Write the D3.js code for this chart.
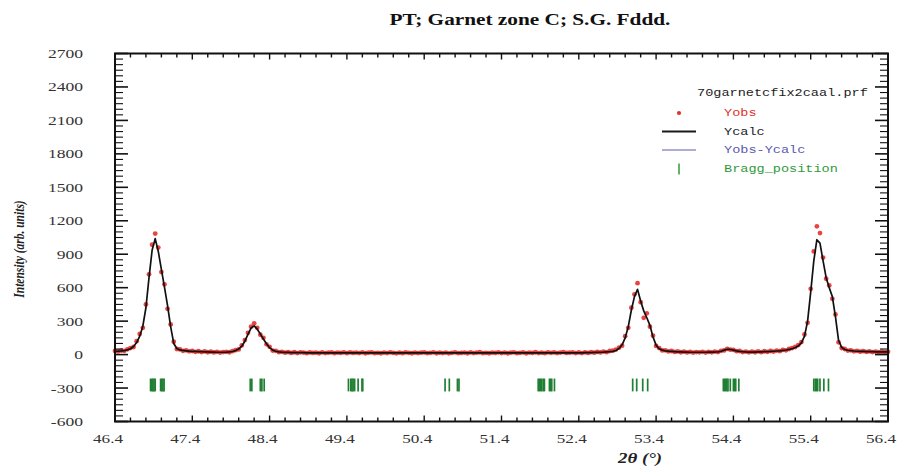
<!DOCTYPE html>
<html>
<head>
<meta charset="utf-8">
<script src="https://cdn.jsdelivr.net/npm/d3@7"></script>
<style>
  body { margin: 0; background: #fff; }
  svg { display: block; }
</style>
</head>
<body>
<svg id="chart" width="899" height="468"></svg>
<script>
// scan grid (2theta, deg)
const twoTheta = [
  46.40,46.44,46.48,46.52,46.56,46.60,46.64,46.68,46.72,46.76,46.80,46.84,46.88,46.92,46.96,47.00,47.04,47.08,47.12,47.16,47.20,47.24,47.28,47.32,47.36,
  47.40,47.44,47.48,47.52,47.56,47.60,47.64,47.68,47.72,47.76,47.80,47.84,47.88,47.92,47.96,48.00,48.04,48.08,48.12,48.16,48.20,48.24,48.28,48.32,48.36,
  48.40,48.44,48.48,48.52,48.56,48.60,48.64,48.68,48.72,48.76,48.80,48.84,48.88,48.92,48.96,49.00,49.04,49.08,49.12,49.16,49.20,49.24,49.28,49.32,49.36,
  49.40,49.44,49.48,49.52,49.56,49.60,49.64,49.68,49.72,49.76,49.80,49.84,49.88,49.92,49.96,50.00,50.04,50.08,50.12,50.16,50.20,50.24,50.28,50.32,50.36,
  50.40,50.44,50.48,50.52,50.56,50.60,50.64,50.68,50.72,50.76,50.80,50.84,50.88,50.92,50.96,51.00,51.04,51.08,51.12,51.16,51.20,51.24,51.28,51.32,51.36,
  51.40,51.44,51.48,51.52,51.56,51.60,51.64,51.68,51.72,51.76,51.80,51.84,51.88,51.92,51.96,52.00,52.04,52.08,52.12,52.16,52.20,52.24,52.28,52.32,52.36,
  52.40,52.44,52.48,52.52,52.56,52.60,52.64,52.68,52.72,52.76,52.80,52.84,52.88,52.92,52.96,53.00,53.04,53.08,53.12,53.16,53.20,53.24,53.28,53.32,53.36,
  53.40,53.44,53.48,53.52,53.56,53.60,53.64,53.68,53.72,53.76,53.80,53.84,53.88,53.92,53.96,54.00,54.04,54.08,54.12,54.16,54.20,54.24,54.28,54.32,54.36,
  54.40,54.44,54.48,54.52,54.56,54.60,54.64,54.68,54.72,54.76,54.80,54.84,54.88,54.92,54.96,55.00,55.04,55.08,55.12,55.16,55.20,55.24,55.28,55.32,55.36,
  55.40,55.44,55.48,55.52,55.56,55.60,55.64,55.68,55.72,55.76,55.80,55.84,55.88,55.92,55.96,56.00,56.04,56.08,56.12,56.16,56.20,56.24,56.28,56.32,56.36,56.40
];

const yObs = [
  33,28,36,34,47,58,68,120,185,240,450,720,985,1085,960,740,630,410,270,115,50,46,34,38,29,
  32,25,30,23,28,21,26,19,24,18,23,25,21,31,40,46,82,130,195,250,280,240,178,150,92,
  70,36,34,22,25,17,22,15,21,14,20,18,13,19,15,18,12,20,14,17,19,13,18,15,20,
  13,19,15,18,14,20,12,17,19,13,16,12,18,14,20,15,11,17,13,19,16,12,18,14,17,
  19,13,16,20,12,17,14,18,11,16,20,13,15,18,12,19,14,17,21,13,16,12,18,15,20,
  14,18,12,17,20,13,16,19,12,18,15,21,14,17,13,20,16,19,14,18,22,15,17,20,14,
  19,14,20,15,22,17,24,19,27,22,32,35,45,62,80,165,240,420,540,640,470,330,370,250,170,
  78,58,37,38,28,32,24,28,21,26,19,24,18,23,20,25,18,24,20,27,23,34,37,52,44,
  43,31,32,23,27,20,26,21,28,22,30,25,32,27,36,31,42,38,50,58,68,85,112,180,285,
  590,925,1150,1090,870,680,620,500,360,110,58,50,36,38,29,33,26,31,25,28,23,27,22,26,21,25
];

const yCalc = [
  30,31,33,36,42,52,72,108,165,255,420,690,935,1040,925,765,605,440,250,100,55,42,37,34,31,
  29,28,27,26,25,24,23,22,21,21,21,22,24,28,36,50,75,120,182,238,258,228,186,140,98,
  62,40,30,25,22,20,19,18,18,17,17,17,16,16,16,16,16,16,16,16,16,16,16,16,16,
  16,16,16,16,16,16,16,16,15,15,15,15,15,15,15,15,15,15,15,15,15,15,15,15,15,
  15,15,15,15,15,15,15,15,15,15,15,15,15,15,15,15,15,15,15,15,15,15,15,15,15,
  15,15,15,15,15,15,15,15,15,15,16,16,16,16,16,16,16,16,16,16,16,16,16,16,16,
  16,16,17,17,18,19,20,21,22,24,26,29,37,55,88,150,250,400,520,585,480,392,330,262,158,
  85,52,40,34,31,29,27,25,24,23,22,21,21,21,21,21,21,22,22,23,25,30,40,48,46,
  40,34,29,26,24,23,23,23,24,25,26,27,28,30,32,34,37,41,46,53,63,78,105,165,300,
  560,840,1030,1000,840,690,600,520,340,130,65,46,39,35,32,30,29,28,27,26,26,25,25,25,24,24
];

const braggPos = [
  46.86,46.875,46.89,46.905,46.92,46.99,47.005,47.02,47.035,
  48.15,48.17,48.28,48.30,48.33,
  49.42,49.45,49.465,49.48,49.50,49.545,49.595,49.605,
  50.67,50.725,50.83,50.85,
  51.875,51.89,51.905,51.92,51.94,51.955,52.02,52.035,52.05,52.085,
  53.097,53.149,53.227,53.291,
  54.27,54.285,54.30,54.315,54.33,54.36,54.40,54.415,54.43,54.47,
  55.44,55.46,55.475,55.49,55.52,55.57,55.63
];

const xTickValues = [46.4,47.4,48.4,49.4,50.4,51.4,52.4,53.4,54.4,55.4,56.4];
const xTickLabels = ["46.4","47.4","48.4","49.4","50.4","51.4","52.4","53.4","54.4","55.4","56.4"];
const yTickValues = [-600,-300,0,300,600,900,1200,1500,1800,2100,2400,2700];
const yTickLabels = ["-600","-300","0","300","600","900","1200","1500","1800","2100","2400","2700"];

const legendItems = ["Yobs", "Ycalc", "Yobs-Ycalc", "Bragg_position"];
const legendColors = ["#e0302c", "#1a1a1a", "#5a5aaa", "#2f9a3c"];

const svg = d3.select("#chart");
const x = d3.scaleLinear().domain([46.4, 56.4]).range([115, 888]);
const y = d3.scaleLinear().domain([-600, 2700]).range([421.5, 53.5]);
const serif = "'Liberation Serif', 'Times New Roman', serif";
const mono = "'Liberation Mono', 'DejaVu Sans Mono', monospace";

svg.append("rect").attr("width", 899).attr("height", 468).attr("fill", "#fff");

// title
svg.append("text")
  .attr("transform", "translate(530,25) scale(1.33,1)")
  .attr("text-anchor", "middle")
  .style("font-family", serif).style("font-weight", "bold").style("font-size", "16px")
  .attr("fill", "#111")
  .text("PT; Garnet zone C; S.G. Fddd.");

// observed points
svg.append("g").selectAll("circle").data(yObs).enter().append("circle")
  .attr("cx", (d, i) => x(twoTheta[i]))
  .attr("cy", d => y(d))
  .attr("r", 2.4)
  .attr("fill", "#e6302c")
  .attr("fill-opacity", 0.9);

// calculated profile
const line = d3.line().x((d, i) => x(twoTheta[i])).y(d => y(d));
svg.append("path").datum(yCalc)
  .attr("d", line)
  .attr("fill", "none")
  .attr("stroke", "#111")
  .attr("stroke-width", 1.7)
  .attr("stroke-linejoin", "round");

// bragg positions
svg.append("g").selectAll("line").data(braggPos).enter().append("line")
  .attr("x1", d => x(d)).attr("x2", d => x(d))
  .attr("y1", y(-215)).attr("y2", y(-330))
  .attr("stroke", "#1f7f33").attr("stroke-width", 1.7);

// axes: ticks drawn inward on all four sides
const axisG = svg.append("g").attr("stroke", "#111");
const xMinor = d3.range(46.4, 56.41, 0.2);
const yMinor = d3.range(-600, 2701, 50);
xMinor.forEach(v => {
  const major = xTickValues.some(t => Math.abs(t - v) < 1e-6);
  const len = major ? 6 : 4;
  axisG.append("line").attr("x1", x(v)).attr("x2", x(v)).attr("y1", y(-600)).attr("y2", y(-600) - len).attr("stroke-width", 1.4);
  axisG.append("line").attr("x1", x(v)).attr("x2", x(v)).attr("y1", y(2700)).attr("y2", y(2700) + len).attr("stroke-width", 1.4);
});
yMinor.forEach(v => {
  const major = v % 300 === 0;
  const len = major ? 13 : 8;
  axisG.append("line").attr("x1", x(46.4)).attr("x2", x(46.4) + len).attr("y1", y(v)).attr("y2", y(v)).attr("stroke-width", major ? 1.6 : 1.1);
  axisG.append("line").attr("x1", x(56.4)).attr("x2", x(56.4) - len).attr("y1", y(v)).attr("y2", y(v)).attr("stroke-width", major ? 1.6 : 1.1);
});
svg.append("rect")
  .attr("x", x(46.4)).attr("y", y(2700))
  .attr("width", x(56.4) - x(46.4)).attr("height", y(-600) - y(2700))
  .attr("fill", "none").attr("stroke", "#111").attr("stroke-width", 2);

// tick labels
svg.append("g").selectAll("text").data(xTickValues).enter().append("text")
  .attr("transform", d => `translate(${x(d) - 7},443) scale(1.32,1)`)
  .attr("text-anchor", "middle")
  .style("font-family", serif).style("font-size", "13px")
  .attr("fill", "#333")
  .text((d, i) => xTickLabels[i]);

svg.append("g").selectAll("text").data(yTickValues).enter().append("text")
  .attr("transform", d => `translate(83,${y(d) + 4.5}) scale(1.3,1)`)
  .attr("text-anchor", "end")
  .style("font-family", serif).style("font-size", "13.5px")
  .attr("fill", "#333")
  .text((d, i) => yTickLabels[i]);

// axis titles
svg.append("text")
  .attr("transform", "translate(24,249) scale(1.3,1) rotate(-90)")
  .attr("text-anchor", "middle")
  .style("font-family", serif).style("font-style", "italic").style("font-weight", "bold").style("font-size", "11.5px")
  .attr("fill", "#222")
  .text("Intensity (arb. units)");

svg.append("text")
  .attr("transform", "translate(640,463) scale(1.3,1)")
  .attr("text-anchor", "middle")
  .style("font-family", serif).style("font-style", "italic").style("font-weight", "bold").style("font-size", "14.5px")
  .attr("fill", "#222")
  .text("2θ (°)");

// legend
const lg = svg.append("g");
lg.append("text")
  .attr("transform", "translate(697,96) scale(1.18,1)")
  .style("font-family", mono).style("font-size", "11.5px")
  .attr("fill", "#222")
  .text("70garnetcfix2caal.prf");

legendItems.forEach((name, i) => {
  const yy = 113 + i * 18.5;
  if (i === 0) {
    lg.append("circle").attr("cx", 679).attr("cy", yy).attr("r", 2.1).attr("fill", legendColors[0]);
  } else if (i === 1) {
    lg.append("line").attr("x1", 662).attr("x2", 696).attr("y1", yy).attr("y2", yy).attr("stroke", legendColors[1]).attr("stroke-width", 2);
  } else if (i === 2) {
    lg.append("line").attr("x1", 662).attr("x2", 696).attr("y1", yy).attr("y2", yy).attr("stroke", legendColors[2]).attr("stroke-width", 1);
  } else {
    lg.append("line").attr("x1", 679).attr("x2", 679).attr("y1", yy - 5).attr("y2", yy + 6).attr("stroke", legendColors[3]).attr("stroke-width", 1.5);
  }
  lg.append("text")
    .attr("transform", `translate(724,${yy + 3}) scale(1.18,1)`)
    .style("font-family", mono).style("font-size", "11.5px")
    .attr("fill", legendColors[i])
    .text(name);
});
</script>
</body>
</html>
